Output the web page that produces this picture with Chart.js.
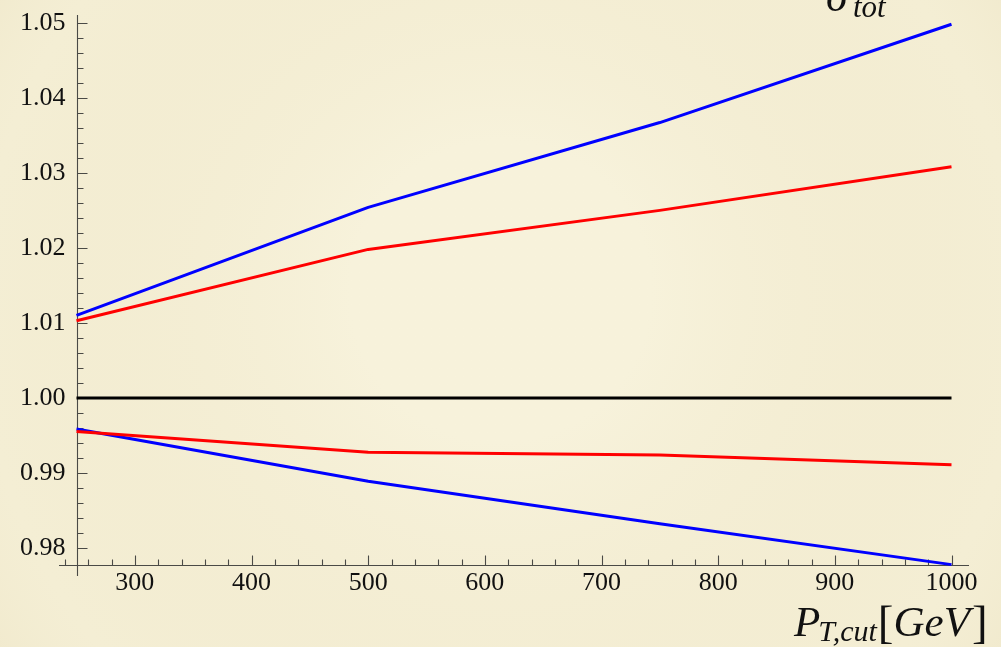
<!DOCTYPE html>
<html>
<head>
<meta charset="utf-8">
<script src="https://cdn.jsdelivr.net/npm/chart.js@4/dist/chart.umd.min.js"></script>
<style>
  html, body { margin: 0; padding: 0; background: #f3edd3; }
  canvas { display: block; }
</style>
</head>
<body>
<canvas id="chart" width="1001" height="647"></canvas>
<script>
// Cut values on the transverse momentum (GeV)
const ptCut = [250, 500, 750, 1000];

// Ratios to the total cross section
const upperBlue = [1.0110, 1.0254, 1.0367, 1.0498];
const upperRed  = [1.0103, 1.0198, 1.0250, 1.0308];
const unity     = [1.0, 1.0, 1.0, 1.0];
const lowerRed  = [0.99555, 0.99278, 0.99242, 0.99112];
const lowerBlue = [0.99587, 0.98890, 0.98326, 0.9778];

// Axis ticks and their labels
const xTicks = [300, 400, 500, 600, 700, 800, 900, 1000];
const yTicks = [0.98, 0.99, 1.00, 1.01, 1.02, 1.03, 1.04, 1.05];
const yTickLabels = ['0.98', '0.99', '1.00', '1.01', '1.02', '1.03', '1.04', '1.05'];

const X_MIN = 250, X_MAX = 1015, X_AXIS_START = 235;
const Y_MIN = 0.97775, Y_MAX = 1.05103, Y_AXIS_END = 0.9763;
const AXIS_COLOR = '#4a4a46';
const SERIF = '"Liberation Serif", "DejaVu Serif", serif';

function toPoints(values) {
  return ptCut.map((x, i) => ({ x: x, y: values[i] }));
}

function lineSet(label, values, color) {
  return {
    label: label,
    data: toPoints(values),
    borderColor: color,
    backgroundColor: color,
    borderWidth: 3,
    pointRadius: 0,
    tension: 0,
    clip: false,
    borderJoinStyle: 'round',
    borderCapStyle: 'butt'
  };
}

// Parchment backdrop, axes with inward ticks, and the math-style labels
const paperPlugin = {
  id: 'paper',
  beforeDraw(chart) {
    const { ctx, width, height } = chart;
    ctx.save();
    ctx.fillStyle = '#f4eed4';
    ctx.fillRect(0, 0, width, height);
    const g = ctx.createRadialGradient(width * 0.5, height * 0.45, 150, width * 0.5, height * 0.5, 680);
    g.addColorStop(0, 'rgba(250,246,226,0.5)');
    g.addColorStop(0.7, 'rgba(236,226,192,0.0)');
    g.addColorStop(1, 'rgba(214,198,150,0.3)');
    ctx.fillStyle = g;
    ctx.fillRect(0, 0, width, height);
    ctx.restore();
  },
  beforeDatasetsDraw(chart) {
    const { ctx } = chart;
    const xs = chart.scales.x, ys = chart.scales.y;
    const axisY = Math.round(ys.getPixelForValue(Y_MIN)) + 0.5;
    const axisX = Math.round(xs.getPixelForValue(X_MIN)) + 0.5;
    ctx.save();
    ctx.strokeStyle = AXIS_COLOR;
    ctx.lineWidth = 1.1;
    ctx.beginPath();
    // horizontal axis
    ctx.moveTo(xs.getPixelForValue(X_AXIS_START), axisY);
    ctx.lineTo(xs.getPixelForValue(X_MAX), axisY);
    // vertical axis
    ctx.moveTo(axisX, ys.getPixelForValue(Y_MAX));
    ctx.lineTo(axisX, ys.getPixelForValue(Y_AXIS_END));
    // x ticks, every 20 GeV, major every 100
    for (let v = 240; v <= 1000; v += 20) {
      if (v === X_MIN) continue;
      const px = Math.round(xs.getPixelForValue(v)) + 0.5;
      const len = (v % 100 === 0) ? 10 : 6;
      ctx.moveTo(px, axisY);
      ctx.lineTo(px, axisY - len);
    }
    // y ticks, every 0.002, major every 0.01
    for (let k = 490; k <= 525; k++) {
      const v = k / 500;
      const py = Math.round(ys.getPixelForValue(v)) + 0.5;
      const len = (k % 5 === 0) ? 10 : 6;
      ctx.moveTo(axisX, py);
      ctx.lineTo(axisX + len, py);
    }
    ctx.stroke();
    ctx.restore();
  },
  afterDraw(chart) {
    const { ctx } = chart;
    ctx.save();
    ctx.fillStyle = '#111';
    ctx.textBaseline = 'alphabetic';
    // axis label: P_{T,cut}[GeV]
    let x = 794;
    const base = 636;
    const seg = (txt, font, dy) => {
      ctx.font = font;
      ctx.fillText(txt, x, base + dy);
      x += ctx.measureText(txt).width;
    };
    seg('P', 'italic 43px ' + SERIF, 0);
    x -= 2;
    seg('T,cut', 'italic 30px ' + SERIF, 5);
    x += 1;
    seg('[', '47px ' + SERIF, 2);
    seg('GeV', 'italic 43px ' + SERIF, 0);
    x += 2;
    seg(']', '47px ' + SERIF, 2);
    // top label: sigma_tot
    ctx.font = 'italic 44px ' + SERIF;
    ctx.fillText('\u03C3', 826, 11);
    ctx.font = 'italic 31px ' + SERIF;
    ctx.fillText('tot', 853, 17);
    ctx.restore();
  }
};

// Keep the plot frame fixed: labels may overhang without shrinking it
function fixBox(size, key) {
  return s => {
    s[key] = size;
    s.paddingTop = 0; s.paddingBottom = 0;
    s.paddingLeft = 0; s.paddingRight = 0;
  };
}

new Chart(document.getElementById('chart'), {
  type: 'line',
  data: {
    datasets: [
      lineSet('unity', unity, '#000000'),
      lineSet('upper blue', upperBlue, '#0000ff'),
      lineSet('upper red', upperRed, '#ff0000'),
      lineSet('lower red', lowerRed, '#ff0000'),
      lineSet('lower blue', lowerBlue, '#0000ff')
    ]
  },
  options: {
    responsive: false,
    animation: false,
    events: [],
    layout: { padding: { top: 15, right: 32, left: 0, bottom: 0 } },
    plugins: {
      legend: { display: false },
      tooltip: { enabled: false },
      title: { display: false }
    },
    scales: {
      x: {
        type: 'linear',
        position: 'bottom',
        min: X_MIN,
        max: X_MAX,
        afterFit: fixBox(82, 'height'),
        afterBuildTicks: s => { s.ticks = xTicks.map(v => ({ value: v })); },
        grid: { display: false, drawTicks: false },
        border: { display: false },
        ticks: {
          padding: 3,
          color: '#111',
          maxRotation: 0,
          autoSkip: false,
          font: { family: SERIF, size: 26 },
          callback: v => String(v)
        }
      },
      y: {
        type: 'linear',
        position: 'left',
        min: Y_MIN,
        max: Y_MAX,
        afterFit: fixBox(76.5, 'width'),
        afterBuildTicks: s => { s.ticks = yTicks.map(v => ({ value: v })); },
        grid: { display: false, drawTicks: false },
        border: { display: false },
        ticks: {
          padding: 11,
          color: '#111',
          autoSkip: false,
          font: { family: SERIF, size: 26 },
          callback: v => yTickLabels[yTicks.findIndex(t => Math.abs(t - v) < 1e-6)]
        }
      }
    }
  },
  plugins: [paperPlugin]
});
</script>
</body>
</html>
